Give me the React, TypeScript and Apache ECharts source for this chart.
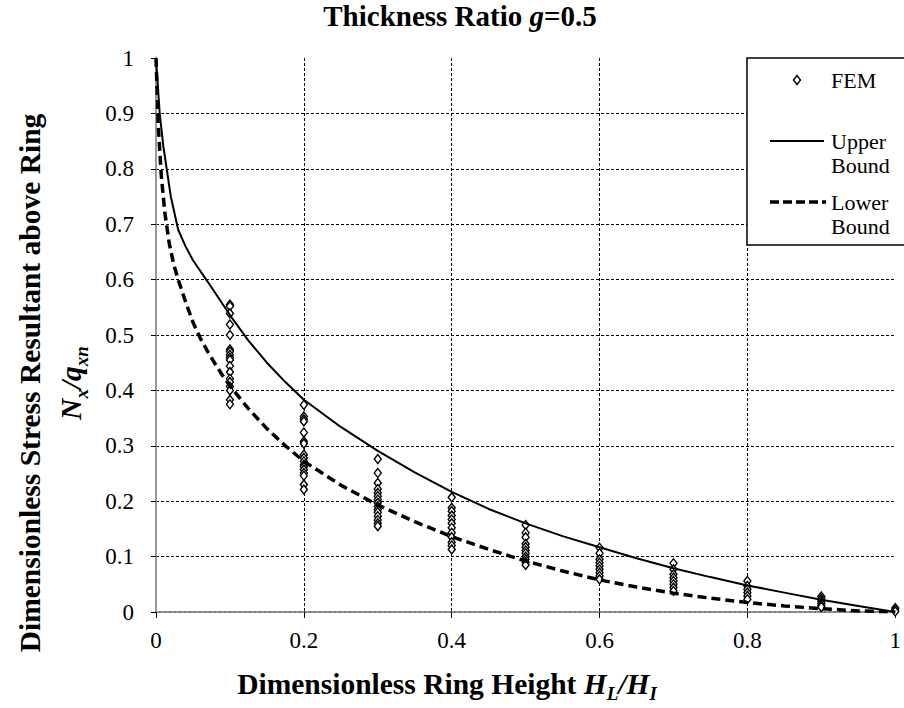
import React, { useEffect, useRef } from "react";
import * as echarts from "echarts";

// FEM results: x positions and the values stacked at each position
const femX = [0.1, 0.2, 0.3, 0.4, 0.5, 0.6, 0.7, 0.8, 0.9, 1.0];
const fem01 = [0.555, 0.552, 0.539, 0.519, 0.5, 0.474, 0.47, 0.464, 0.459, 0.455, 0.444, 0.433, 0.421, 0.415, 0.407, 0.4, 0.383, 0.375];
const fem02 = [0.374, 0.353, 0.348, 0.344, 0.324, 0.308, 0.304, 0.284, 0.278, 0.272, 0.266, 0.262, 0.257, 0.251, 0.246, 0.23, 0.221];
const fem03 = [0.276, 0.251, 0.233, 0.222, 0.215, 0.209, 0.203, 0.197, 0.191, 0.185, 0.18, 0.173, 0.166, 0.16, 0.155];
const fem04 = [0.207, 0.188, 0.182, 0.174, 0.167, 0.16, 0.152, 0.143, 0.135, 0.126, 0.12, 0.113];
const fem05 = [0.157, 0.143, 0.135, 0.123, 0.117, 0.111, 0.106, 0.1, 0.095, 0.09, 0.085];
const fem06 = [0.116, 0.106, 0.095, 0.089, 0.083, 0.077, 0.071, 0.065, 0.059];
const fem07 = [0.088, 0.077, 0.068, 0.062, 0.056, 0.05, 0.044, 0.038];
const fem08 = [0.056, 0.047, 0.041, 0.035, 0.029, 0.023];
const fem09 = [0.028, 0.024, 0.02, 0.016, 0.012, 0.009];
const fem10 = [0.007, 0.004, 0.001];
const femGroups = [fem01, fem02, fem03, fem04, fem05, fem06, fem07, fem08, fem09, fem10];

// Upper bound curve
const upperX = [0, 0.005, 0.01, 0.02, 0.03, 0.04, 0.05, 0.07, 0.1, 0.125, 0.15, 0.175, 0.2, 0.25, 0.3, 0.35, 0.4, 0.45, 0.5, 0.55, 0.6, 0.65, 0.7, 0.75, 0.8, 0.85, 0.9, 0.95, 1.0];
const upperY = [1, 0.9, 0.84, 0.75, 0.69, 0.66, 0.635, 0.596, 0.536, 0.49, 0.45, 0.415, 0.383, 0.334, 0.291, 0.252, 0.217, 0.186, 0.16, 0.137, 0.117, 0.097, 0.079, 0.063, 0.048, 0.035, 0.022, 0.011, 0];

// Lower bound curve
const lowerX = [0, 0.003, 0.007, 0.012, 0.018, 0.024, 0.03, 0.04, 0.05, 0.06, 0.07, 0.08, 0.09, 0.1, 0.125, 0.15, 0.175, 0.2, 0.25, 0.3, 0.35, 0.4, 0.45, 0.5, 0.55, 0.6, 0.65, 0.7, 0.75, 0.8, 0.85, 0.9, 0.95, 1.0];
const lowerY = [1, 0.88, 0.79, 0.72, 0.665, 0.627, 0.6, 0.56, 0.523, 0.494, 0.47, 0.448, 0.427, 0.408, 0.367, 0.331, 0.3, 0.272, 0.229, 0.193, 0.163, 0.136, 0.113, 0.092, 0.074, 0.058, 0.045, 0.034, 0.025, 0.017, 0.011, 0.006, 0.002, 0];

const xTickInterval = 0.2;
const yTickInterval = 0.1;

const FONT = "Liberation Serif";

export default function App() {
  const ref = useRef<HTMLDivElement>(null);

  useEffect(() => {
    if (!ref.current) return;
    const chart = echarts.init(ref.current, null, { renderer: "svg" });

    const femData: number[][] = [];
    femGroups.forEach((g, i) => g.forEach((v) => femData.push([femX[i], v])));
    const upperData = upperX.map((x, i) => [x, upperY[i]]);
    const lowerData = lowerX.map((x, i) => [x, lowerY[i]]);

    const mkRich = (size: number, subSize: number, lh: number) => ({
      b: { fontFamily: FONT, fontSize: size, fontWeight: "bold", color: "#000", lineHeight: lh },
      bi: { fontFamily: FONT, fontSize: size, fontWeight: "bold", fontStyle: "italic", color: "#000", lineHeight: lh },
      sub: { fontFamily: FONT, fontSize: subSize, fontWeight: "bold", fontStyle: "italic", color: "#000", verticalAlign: "bottom" },
    });

    const legendText = (text: string, x: number, y: number) => ({
      type: "text",
      x,
      y,
      z: 101,
      style: {
        text,
        fontFamily: FONT,
        fontSize: 22,
        lineHeight: 24,
        fill: "#000",
        align: "left",
        verticalAlign: "middle",
        textAlign: "left",
        textVerticalAlign: "middle",
      },
    });

    const option: any = {
      animation: false,
      backgroundColor: "#fff",
      grid: { left: 156, top: 58, width: 746, height: 554, containLabel: false },
      xAxis: [
        {
          type: "value",
          min: 0,
          max: 1,
          interval: xTickInterval,
          axisLine: { show: true, onZero: false, lineStyle: { color: "#555", width: 2 } },
          axisTick: { show: true, length: 6, lineStyle: { color: "#000", width: 1 } },
          axisLabel: { fontFamily: FONT, fontSize: 23, color: "#000", margin: 17 },
          splitLine: { show: true, showMinLine: false, showMaxLine: false, lineStyle: { color: "#000", width: 1, type: [3, 2] } },
        },
        {
          type: "value",
          position: "top",
          min: 0,
          max: 1,
          axisLine: { show: true, lineStyle: { color: "#aaa", width: 1.5, type: [3, 2] } },
          axisTick: { show: false },
          axisLabel: { show: false },
          splitLine: { show: false },
        },
      ],
      yAxis: [
        {
          type: "value",
          min: 0,
          max: 1,
          interval: yTickInterval,
          axisLine: { show: true, onZero: false, lineStyle: { color: "#000", width: 2 } },
          axisTick: { show: true, length: 5, lineStyle: { color: "#000", width: 1 } },
          axisLabel: { fontFamily: FONT, fontSize: 23, color: "#000", margin: 22 },
          splitLine: { show: true, showMinLine: false, showMaxLine: false, lineStyle: { color: "#000", width: 1, type: [3, 2] } },
        },
        {
          type: "value",
          position: "right",
          min: 0,
          max: 1,
          axisLine: { show: true, lineStyle: { color: "#999", width: 2 } },
          axisTick: { show: false },
          axisLabel: { show: false },
          splitLine: { show: false },
        },
      ],
      series: [
        {
          name: "FEM",
          type: "scatter",
          data: femData,
          symbol: "diamond",
          symbolSize: [7, 9],
          itemStyle: { color: "#fff", borderColor: "#000", borderWidth: 1.4, opacity: 1 },
          z: 2,
        },
        {
          name: "Upper Bound",
          type: "line",
          data: upperData,
          showSymbol: false,
          smooth: false,
          lineStyle: { color: "#000", width: 2 },
          z: 3,
        },
        {
          name: "Lower Bound",
          type: "line",
          data: lowerData,
          showSymbol: false,
          smooth: false,
          lineStyle: { color: "#000", width: 3.5, type: [9, 5] },
          z: 3,
        },
      ],
      graphic: [
        {
          type: "text",
          x: 460,
          y: 16,
          style: {
            text: "{b|Thickness Ratio }{bi|g}{b|=0.5}",
            rich: {
              b: { fontFamily: FONT, fontSize: 29, fontWeight: "bold", color: "#000" },
              bi: { fontFamily: FONT, fontSize: 29, fontWeight: "bold", fontStyle: "italic", color: "#000" },
            },
            align: "center",
            verticalAlign: "middle",
            textAlign: "center",
            textVerticalAlign: "middle",
          },
        },
        {
          type: "text",
          x: 447,
          y: 684,
          style: {
            text: "{b|Dimensionless Ring Height }{bi|H}{sub|L}{bi|/H}{sub|I}",
            rich: mkRich(29.5, 19, 38),
            align: "center",
            verticalAlign: "middle",
            textAlign: "center",
            textVerticalAlign: "middle",
          },
        },
        {
          type: "text",
          x: 50,
          y: 383,
          rotation: Math.PI / 2,
          style: {
            text: "{b|Dimensionless Stress Resultant above Ring}\n{bi|N}{sub|x}{bi|/q}{sub|xn}",
            rich: mkRich(29.5, 19, 41),
            align: "center",
            verticalAlign: "middle",
            textAlign: "center",
            textVerticalAlign: "middle",
          },
        },
        {
          type: "rect",
          z: 100,
          shape: { x: 747, y: 58, width: 170, height: 187 },
          style: { fill: "#fff", stroke: "#000", lineWidth: 1.5 },
        },
        {
          type: "polygon",
          z: 101,
          shape: { points: [[797, 75.5], [800.5, 80], [797, 84.5], [793.5, 80]] },
          style: { fill: "#fff", stroke: "#000", lineWidth: 1.4 },
        },
        legendText("FEM", 831, 80),
        {
          type: "line",
          z: 101,
          shape: { x1: 770, y1: 141, x2: 824, y2: 141 },
          style: { stroke: "#000", lineWidth: 2 },
        },
        legendText("Upper\nBound", 831, 153),
        {
          type: "line",
          z: 101,
          shape: { x1: 770, y1: 202, x2: 826, y2: 202 },
          style: { stroke: "#000", lineWidth: 3.5, lineDash: [9, 4] },
        },
        legendText("Lower\nBound", 831, 214),
      ],
    };

    chart.setOption(option);
    return () => chart.dispose();
  }, []);

  return (
    <div
      ref={ref}
      style={{ position: "absolute", left: 0, top: 0, width: 904, height: 708, background: "#fff" }}
    />
  );
}
